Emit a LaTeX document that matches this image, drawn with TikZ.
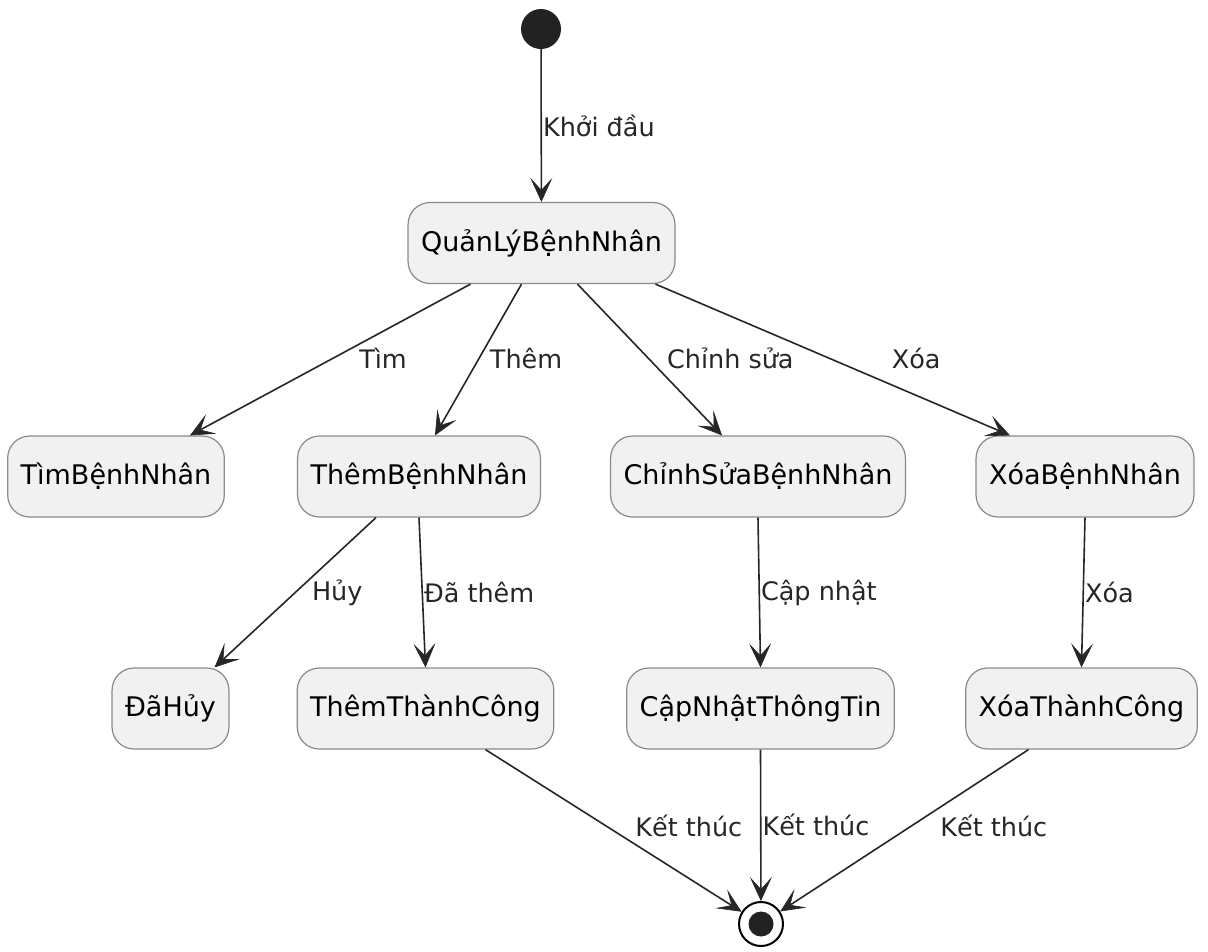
\documentclass[tikz,border=0pt]{standalone}
\usepackage{fontspec}
\setmainfont{DejaVu Sans}
\usetikzlibrary{arrows.meta,positioning,calc}
\definecolor{boxfill}{HTML}{F1F1F1}
\definecolor{boxline}{HTML}{8A8A8A}
\definecolor{dotfill}{HTML}{222222}
\tikzset{
	state/.style={draw=boxline,line width=1.2pt,fill=boxfill,rounded corners=22pt,
		minimum height=81pt,inner xsep=13pt,font=\fontsize{27}{32}\selectfont},
	startdot/.style={circle,fill=dotfill,minimum size=40pt,inner sep=0pt},
	enddot/.style={circle,draw=black,line width=2pt,fill=white,minimum size=44pt,inner sep=0pt,
		path picture={\fill[dotfill] (path picture bounding box.center) circle (12.5pt);}},
	umltip/.tip={Stealth[length=24pt,width=22pt,inset=12pt,line width=0.6pt]},
	trans/.style={line width=1.6pt,draw=black!85,arrows={-umltip}},
	lbl/.style={font=\fontsize{25.5}{30}\selectfont,inner sep=1pt,text=black!85}
}
\begin{document}
\begin{tikzpicture}[x=1pt,y=-1pt]
	\useasboundingbox (0,0) rectangle (1208,951);
	
	% states
	\node[startdot] (start) at (541,29) {};
	\node[state] (ql) at (541.5,243) {QuảnLýBệnhNhân};
	
	\node[state] (tim) at (116,476.5) {TìmBệnhNhân};
	\node[state] (them) at (419,476.5) {ThêmBệnhNhân};
	\node[state] (sua) at (758,476.5) {ChỉnhSửaBệnhNhân};
	\node[state] (xoa) at (1085,476.5) {XóaBệnhNhân};
	
	\node[state] (huy) at (170.5,708.5) {ĐãHủy};
	\node[state] (themtc) at (425.5,708.5) {ThêmThànhCông};
	\node[state] (capnhat) at (760.5,708.5) {CậpNhậtThôngTin};
	\node[state] (xoatc) at (1081.5,708.5) {XóaThànhCông};
	
	\node[enddot] (stop) at (761,924) {};
	
	% transitions
	\draw[trans] (start) -- node[lbl,right,pos=.5] {Khởi đầu} (ql);
	
	\draw[trans] ([xshift=-71pt]ql.south) -- node[lbl,pos=.49,xshift=50pt] {Tìm} ([xshift=74pt]tim.north);
	\draw[trans] ([xshift=-20pt]ql.south) -- node[lbl,pos=.49,xshift=47pt] {Thêm} ([xshift=16pt]them.north);
	\draw[trans] ([xshift=36pt]ql.south) -- node[lbl,pos=.49,xshift=82pt] {Chỉnh sửa} ([xshift=-36pt]sua.north);
	\draw[trans] ([xshift=114pt]ql.south) -- node[lbl,pos=.49,xshift=87pt] {Xóa} ([xshift=-75pt]xoa.north);
	
	\draw[trans] ([xshift=-43pt]them.south) -- node[lbl,pos=.5,xshift=42pt] {Hủy} ([xshift=44pt]huy.north);
	\draw[trans] (them.south) -- node[lbl,right,pos=.5] {Đã thêm} (themtc.north);
	\draw[trans] (sua.south) -- node[lbl,right,pos=.5] {Cập nhật} (capnhat.north);
	\draw[trans] (xoa.south) -- node[lbl,right,pos=.5] {Xóa} (xoatc.north);
	
	\draw[trans] ([xshift=60pt]themtc.south) -- node[lbl,pos=.47,xshift=83pt] {Kết thúc} (stop);
	\draw[trans] (capnhat.south) -- node[lbl,right,pos=.5] {Kết thúc} (stop);
	\draw[trans] ([xshift=-53pt]xoatc.south) -- node[lbl,pos=.47,xshift=82pt] {Kết thúc} (stop);
\end{tikzpicture}
\end{document}
